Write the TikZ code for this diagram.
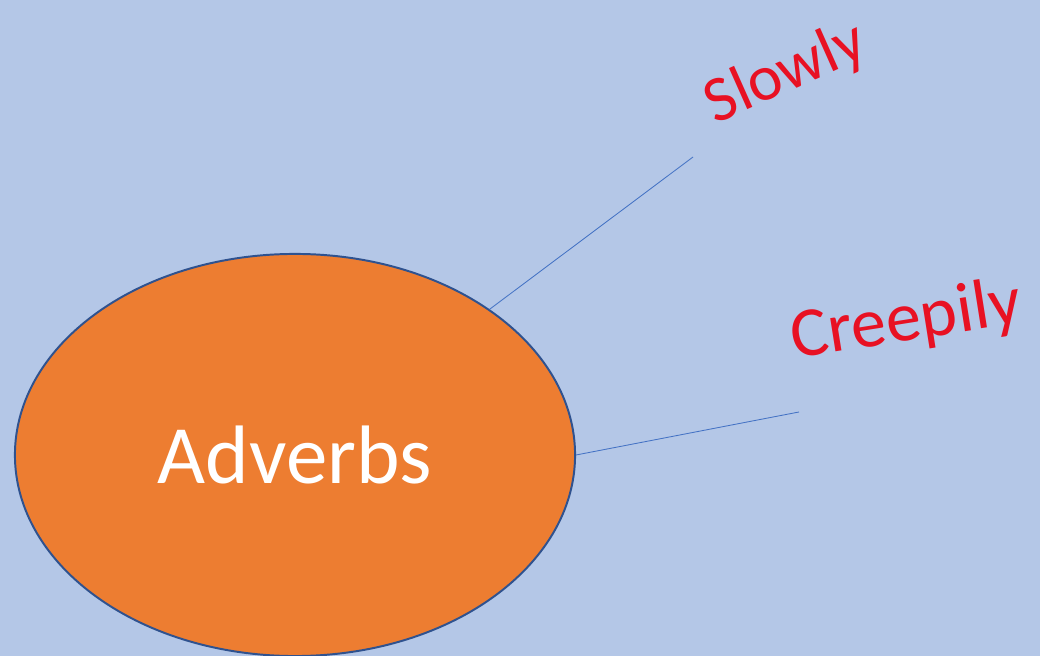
\documentclass[tikz,border=0pt]{standalone}
\usepackage{fontspec}
\setmainfont{Carlito}
\usetikzlibrary{shapes.geometric}
\definecolor{slidebg}{HTML}{B4C7E7}
\definecolor{ovalfill}{HTML}{ED7D31}
\definecolor{ovaledge}{HTML}{2F528F}
\definecolor{linkblue}{HTML}{4472C4}
\definecolor{inkred}{HTML}{E81123}
\begin{document}
\begin{tikzpicture}[x=0.025cm, y=0.025cm,
    oval/.style={ellipse, draw=ovaledge, line width=1.4pt, fill=ovalfill,
        minimum width=14cm, minimum height=10.05cm, inner sep=0pt,
        text=white, font=\fontsize{59}{66}\selectfont},
    link/.style={draw=linkblue, line width=0.6pt},
    scribble/.style={text=inkred, inner sep=0pt}]
            \fill[slidebg] (0, 0) rectangle (1040, 656);
            \useasboundingbox (0, 0) rectangle (1040, 656);
            % the oval with its label
            \node[oval] (adverbs) at (295, 201) {Adverbs};
            % free ends of the two links
            \coordinate (slowEnd) at (693, 499);
            \coordinate (creepEnd) at (799, 244);
            \draw[link] (adverbs) -- (slowEnd);
            \draw[link] (adverbs.east) -- (creepEnd);
            % handwritten words
            \node[scribble, rotate=24, font=\fontsize{46}{52}\selectfont] (slowly) at (786, 582) {Slowly};
            \node[scribble, rotate=9, font=\fontsize{50}{56}\selectfont] (creepily) at (906, 334) {Creepily};
\end{tikzpicture}
\end{document}
